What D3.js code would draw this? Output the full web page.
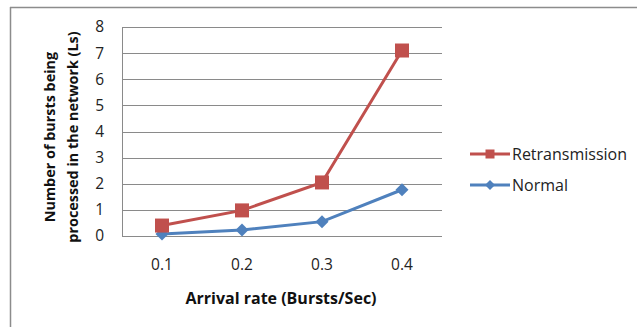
<!DOCTYPE html>
<html>
<head>
<meta charset="utf-8">
<script src="https://cdn.jsdelivr.net/npm/d3@7"></script>
<style>
  body { margin: 0; background: #fff; }
  svg { display: block; font-family: "Open Sans", "Liberation Sans", sans-serif; }
</style>
</head>
<body>
<div id="chart"></div>
<script>
const categories = ["0.1", "0.2", "0.3", "0.4"];
const retransmission = [0.4, 0.98, 2.05, 7.1];
const normal = [0.08, 0.23, 0.55, 1.77];
const yTicks = [0, 1, 2, 3, 4, 5, 6, 7, 8];

const series = [
    { name: "Retransmission", values: retransmission, color: "#C0504D", marker: "square" },
    { name: "Normal", values: normal, color: "#4F81BD", marker: "diamond" }
];

const width = 637, height = 327;
const plot = { left: 122, right: 442, top: 27, bottom: 236 };

const svg = d3.select("#chart")
    .append("svg")
    .attr("width", width)
    .attr("height", height);

// chart frame
svg.append("line")
    .attr("x1", 10).attr("x2", width)
    .attr("y1", 7.5).attr("y2", 7.5)
    .attr("stroke", "#8c8c8c").attr("stroke-width", 1.5);
svg.append("line")
    .attr("x1", 10.5).attr("x2", 10.5)
    .attr("y1", 7).attr("y2", height)
    .attr("stroke", "#8c8c8c").attr("stroke-width", 1.5);

const x = d3.scaleBand()
    .domain(categories)
    .range([plot.left, plot.right]);

const y = d3.scaleLinear()
    .domain([0, 8])
    .range([plot.bottom, plot.top]);

// gridlines
svg.append("g")
    .selectAll("line")
    .data(yTicks)
    .enter()
    .append("line")
    .attr("x1", plot.left)
    .attr("x2", plot.right)
    .attr("y1", d => Math.round(y(d)) + 0.5)
    .attr("y2", d => Math.round(y(d)) + 0.5)
    .attr("stroke", "#8a8a8a")
    .attr("stroke-width", 1);

// vertical axis line
svg.append("line")
    .attr("x1", plot.left + 0.5).attr("x2", plot.left + 0.5)
    .attr("y1", plot.top).attr("y2", plot.bottom)
    .attr("stroke", "#8a8a8a");

// y tick labels
svg.append("g")
    .selectAll("text")
    .data(yTicks)
    .enter()
    .append("text")
    .attr("x", 104)
    .attr("y", d => y(d))
    .attr("dy", "0.35em")
    .attr("text-anchor", "end")
    .style("font-size", "15.5px")
    .style("fill", "#222")
    .text(d => d);

// x tick labels
svg.append("g")
    .selectAll("text")
    .data(categories)
    .enter()
    .append("text")
    .attr("x", d => x(d) + x.bandwidth() / 2)
    .attr("y", 265)
    .attr("dy", "0.35em")
    .attr("text-anchor", "middle")
    .style("font-size", "15.5px")
    .style("fill", "#222")
    .text(d => d);

// axis titles
svg.append("text")
    .attr("x", 281)
    .attr("y", 298)
    .attr("dy", "0.35em")
    .attr("text-anchor", "middle")
    .style("font-size", "16px")
    .style("font-weight", "bold")
    .style("fill", "#111")
    .text("Arrival rate (Bursts/Sec)");

const yTitle = svg.append("text")
    .attr("transform", "translate(55,137) rotate(-90)")
    .attr("text-anchor", "middle")
    .style("font-size", "14.4px")
    .style("font-weight", "bold")
    .style("fill", "#111");
yTitle.append("tspan").attr("x", 0).attr("y", 0).text("Number of bursts being");
yTitle.append("tspan").attr("x", 0).attr("y", 23).text("processed in the network (Ls)");

const line = d3.line()
    .x((d, i) => x(categories[i]) + x.bandwidth() / 2)
    .y(d => y(d));

function drawMarker(g, type, cx, cy, size, color) {
    if (type === "square") {
        g.append("rect")
            .attr("x", cx - size / 2).attr("y", cy - size / 2)
            .attr("width", size).attr("height", size)
            .attr("fill", color);
    } else {
        const s = size * 0.5;
        g.append("path")
            .attr("d", `M${cx},${cy - s}L${cx + s},${cy}L${cx},${cy + s}L${cx - s},${cy}Z`)
            .attr("fill", color);
    }
}

// draw Normal first so Retransmission sits on top
series.slice().reverse().forEach(s => {
    const g = svg.append("g");
    g.append("path")
        .datum(s.values)
        .attr("d", line)
        .attr("fill", "none")
        .attr("stroke", s.color)
        .attr("stroke-width", 3);
    s.values.forEach((v, i) => {
        drawMarker(g, s.marker, x(categories[i]) + x.bandwidth() / 2, y(v),
            s.marker === "square" ? 14 : 13, s.color);
    });
});

// legend
const legend = svg.append("g");
series.forEach((s, i) => {
    const ly = 154 + i * 31;
    legend.append("line")
        .attr("x1", 470).attr("x2", 510)
        .attr("y1", ly).attr("y2", ly)
        .attr("stroke", s.color)
        .attr("stroke-width", 3);
    drawMarker(legend, s.marker, 490, ly, s.marker === "square" ? 9 : 10, s.color);
    legend.append("text")
        .attr("x", 512)
        .attr("y", ly)
        .attr("dy", "0.35em")
        .style("font-size", "16px")
        .style("fill", "#222")
        .text(s.name);
});
</script>
</body>
</html>
